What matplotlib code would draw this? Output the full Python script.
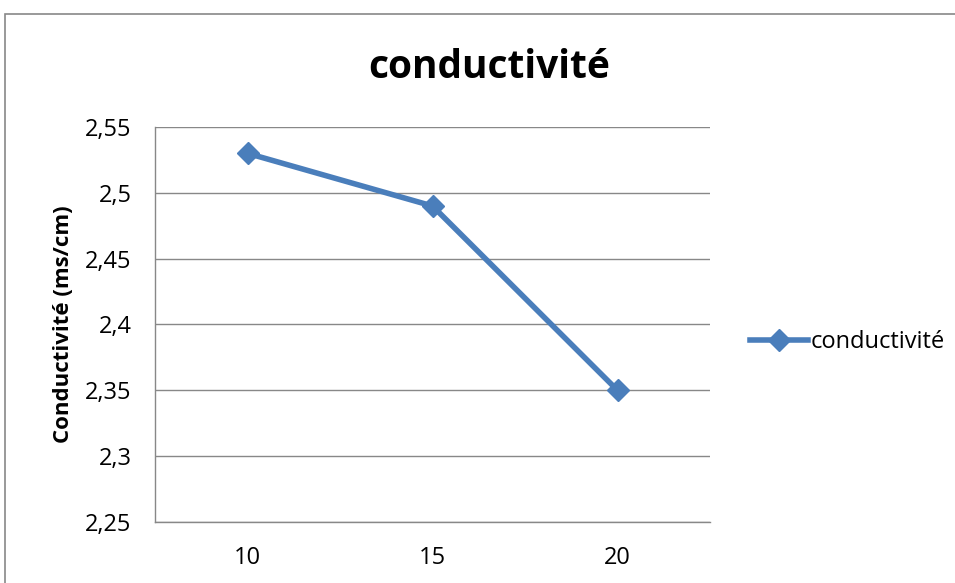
import matplotlib.pyplot as plt
from matplotlib.patches import Rectangle
from matplotlib.ticker import FuncFormatter, MultipleLocator

plt.rcParams["font.family"] = ["Open Sans", "DejaVu Sans"]

categories = ["10", "15", "20"]
conductivite = [2.53, 2.49, 2.35]

BLUE = "#4a7ebb"
GRID = "#888888"


def virgule(v, pos):
    s = f"{v:.2f}".rstrip("0").rstrip(".")
    return s.replace(".", ",")


fig = plt.figure(figsize=(9.55, 5.83), dpi=100)
ax = fig.add_axes([155 / 955, 1 - 522 / 583, 555 / 955, 395 / 583])

x = range(len(categories))
ax.plot(x, conductivite, color=BLUE, linewidth=4, marker="D", markersize=11,
        label="conductivité", clip_on=False)

ax.set_xlim(-0.5, len(categories) - 0.5)
ax.set_xticks(list(x))
ax.set_xticklabels(categories)
ax.set_ylim(2.25, 2.55)
ax.yaxis.set_major_locator(MultipleLocator(0.05))
ax.yaxis.set_major_formatter(FuncFormatter(virgule))
ax.grid(axis="y", color=GRID, linewidth=1)
ax.set_axisbelow(True)
for side in ["top", "right"]:
    ax.spines[side].set_visible(False)
for side in ["left", "bottom"]:
    ax.spines[side].set_color(GRID)
    ax.spines[side].set_linewidth(1)
ax.tick_params(length=0, labelsize=17, pad=17)

ax.set_ylabel("Conductivité (ms/cm)", fontsize=16, fontweight="bold", labelpad=8)
fig.text(489 / 955, 1 - 68 / 583, "conductivité", fontsize=28, fontweight="bold",
         ha="center", va="center")

ax.legend(loc="center left", bbox_to_anchor=(1 + 40 / 555, 0.456), frameon=False,
          fontsize=17, handlelength=2.45, handletextpad=0.1, borderaxespad=0,
          borderpad=0)

# cadre du graphique
fig.patches.append(Rectangle((5 / 955, -0.1), 1.2, 1 - 14 / 583 + 0.1,
                             transform=fig.transFigure, fill=False,
                             edgecolor="#888888", linewidth=1.2))

fig.savefig("out.png", dpi=100)
